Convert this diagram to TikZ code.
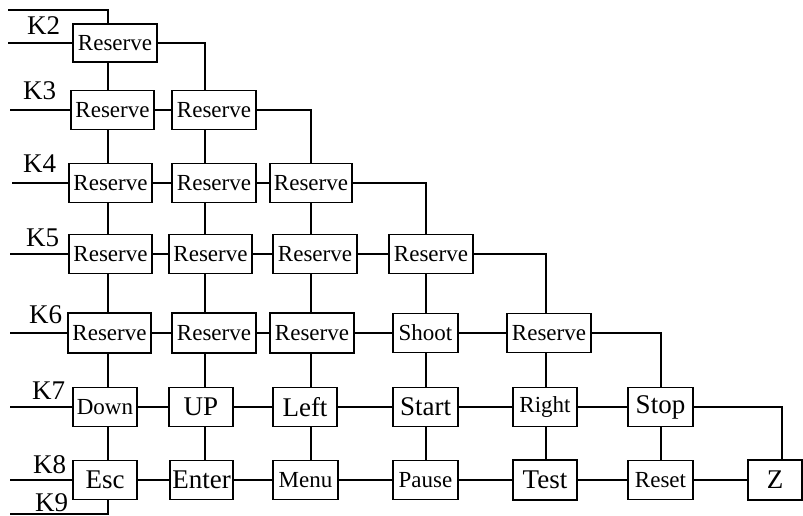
\documentclass[tikz,border=0pt]{standalone}
\usepackage{fontspec}
\setmainfont{Liberation Serif}
\usetikzlibrary{calc}
\tikzset{
  keybox/.style={draw, line width=1.5pt, inner sep=0pt, minimum height=39pt, minimum width=64pt},
  wide/.style={minimum width=84pt},
  smalltxt/.style={font=\fontsize{23}{23}\selectfont},
  bigtxt/.style={font=\fontsize{27}{27}\selectfont},
  wire/.style={line width=1.5pt},
  klabel/.style={anchor=base west, inner sep=0pt, font=\fontsize{27}{27}\selectfont}
}

\begin{document}
\begin{tikzpicture}[x=1pt, y=-1pt]
\useasboundingbox (0,0) rectangle (803,516);
% column lines
\coordinate (c1) at (108,0);
\coordinate (c2) at (205,0);
\coordinate (c3) at (311,0);
\coordinate (c4) at (426,0);
\coordinate (c5) at (546,0);
\coordinate (c6) at (661,0);
\coordinate (c7) at (782,0);
% free wire ends
\coordinate (t0) at (8,10);
\coordinate (k2w) at (8,43);
\coordinate (k3w) at (10,110);
\coordinate (k4w) at (12,183);
\coordinate (k5w) at (10,254);
\coordinate (k6w) at (10,333);
\coordinate (k7w) at (10,407);
\coordinate (k8w) at (10,480);
\coordinate (k9w) at (10,514);
% row labels
\node[klabel] (lk2) at (27,35) {K2};
\node[klabel] (lk3) at (23,100) {K3};
\node[klabel] (lk4) at (23,172) {K4};
\node[klabel] (lk5) at (26,246) {K5};
\node[klabel] (lk6) at (29,323) {K6};
\node[klabel] (lk7) at (32,399) {K7};
\node[klabel] (lk8) at (33,473) {K8};
\node[klabel] (lk9) at (35,511) {K9};
% keys
\node[keybox, wide, smalltxt, minimum height=38pt] (r2a) at (115,43) {Reserve};
\node[keybox, wide, smalltxt, minimum width=83pt] (r3a) at (112.5,110) {Reserve};
\node[keybox, wide, smalltxt] (r3b) at (214,110) {Reserve};
\node[keybox, wide, smalltxt, minimum width=83pt] (r4a) at (110.5,183) {Reserve};
\node[keybox, wide, smalltxt] (r4b) at (214,183) {Reserve};
\node[keybox, wide, smalltxt, minimum width=82pt] (r4c) at (311,183) {Reserve};
\node[keybox, wide, smalltxt, minimum width=83pt] (r5a) at (110.5,254) {Reserve};
\node[keybox, wide, smalltxt, minimum width=83pt] (r5b) at (210.5,254) {Reserve};
\node[keybox, wide, smalltxt] (r5c) at (315,254) {Reserve};
\node[keybox, wide, smalltxt] (r5d) at (431,254) {Reserve};
\node[keybox, wide, smalltxt, minimum width=83pt, minimum height=40pt] (r6a) at (109.5,333) {Reserve};
\node[keybox, wide, smalltxt, minimum height=40pt] (r6b) at (214,333) {Reserve};
\node[keybox, wide, smalltxt, minimum height=40pt] (r6c) at (312,333) {Reserve};
\node[keybox, smalltxt, minimum width=65pt] (shoot) at (425.5,333) {Shoot};
\node[keybox, wide, smalltxt] (r6e) at (549,333) {Reserve};
\node[keybox, smalltxt] (down) at (105,407) {Down};
\node[keybox, bigtxt] (up) at (201,407) {UP};
\node[keybox, bigtxt] (left) at (305,407) {Left};
\node[keybox, bigtxt, minimum width=65pt] (start) at (425.5,407) {Start};
\node[keybox, smalltxt] (right) at (545,407) {Right};
\node[keybox, bigtxt, minimum width=65pt] (stop) at (660.5,407) {Stop};
\node[keybox, bigtxt] (esc) at (105,480) {Esc};
\node[keybox, bigtxt, minimum width=63pt] (enter) at (201.5,480) {Enter};
\node[keybox, smalltxt, minimum width=65pt] (menu) at (305.5,480) {Menu};
\node[keybox, smalltxt, minimum width=65pt] (pause) at (425.5,480) {Pause};
\node[keybox, bigtxt, minimum height=40pt] (test) at (545,480) {Test};
\node[keybox, smalltxt, minimum width=65pt] (reset) at (660.5,480) {Reset};
\node[keybox, bigtxt, minimum width=54pt, minimum height=40pt] (z) at (775,480) {Z};
% rows
\draw[wire] (t0) -| (r2a.north -| c1);
\draw[wire] (k2w) -- (r2a);
\draw[wire] (r2a.east) -| (r3b.north -| c2);
\draw[wire] (k3w) -- (r3a) -- (r3b);
\draw[wire] (r3b.east) -| (r4c.north -| c3);
\draw[wire] (k4w) -- (r4a) -- (r4b) -- (r4c);
\draw[wire] (r4c.east) -| (r5d.north -| c4);
\draw[wire] (k5w) -- (r5a) -- (r5b) -- (r5c) -- (r5d);
\draw[wire] (r5d.east) -| (r6e.north -| c5);
\draw[wire] (k6w) -- (r6a) -- (r6b) -- (r6c) -- (shoot) -- (r6e);
\draw[wire] (r6e.east) -| (stop.north -| c6);
\draw[wire] (k7w) -- (down) -- (up) -- (left) -- (start) -- (right) -- (stop);
\draw[wire] (stop.east) -| (z.north -| c7);
\draw[wire] (k8w) -- (esc) -- (enter) -- (menu) -- (pause) -- (test) -- (reset) -- (z);
\draw[wire] (k9w) -| (esc.south -| c1);
% columns
\foreach \a/\b/\c in {r2a/r3a/c1, r3a/r4a/c1, r4a/r5a/c1, r5a/r6a/c1, r6a/down/c1, down/esc/c1,
    r3b/r4b/c2, r4b/r5b/c2, r5b/r6b/c2, r6b/up/c2, up/enter/c2,
    r4c/r5c/c3, r5c/r6c/c3, r6c/left/c3, left/menu/c3,
    r5d/shoot/c4, shoot/start/c4, start/pause/c4,
    r6e/right/c5, right/test/c5, stop/reset/c6}
  \draw[wire] (\a.south -| \c) -- (\b.north -| \c);
\end{tikzpicture}
\end{document}
